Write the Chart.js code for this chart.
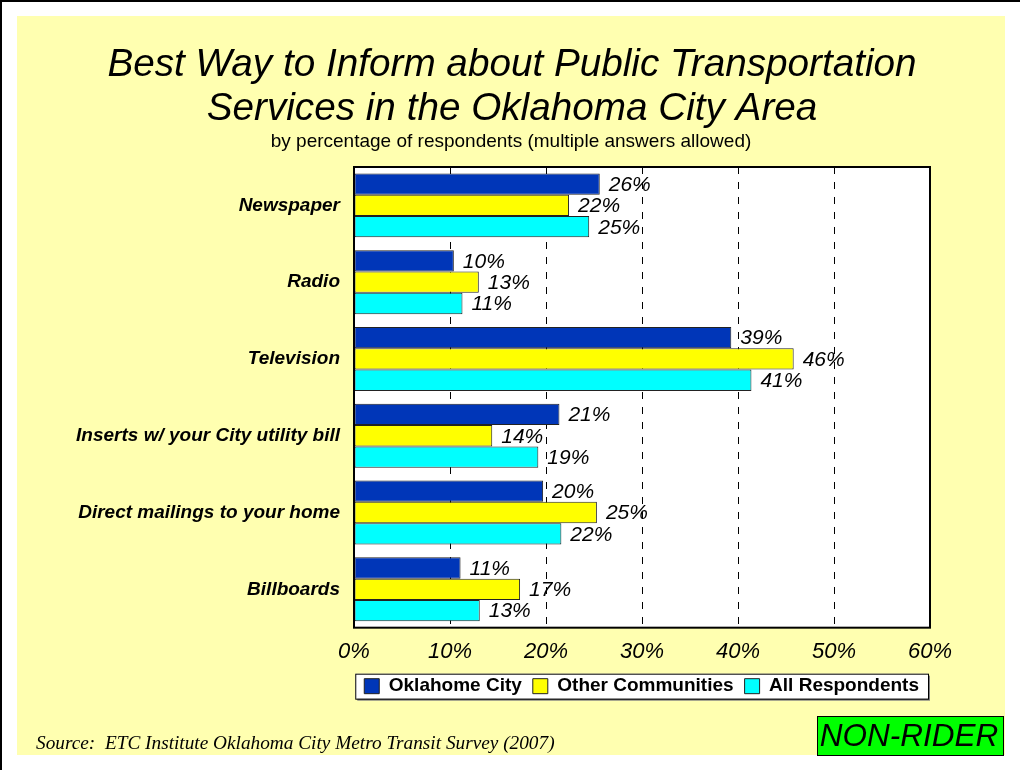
<!DOCTYPE html>
<html>
<head>
<meta charset="utf-8">
<script src="https://cdn.jsdelivr.net/npm/chart.js@4.4.1/dist/chart.umd.min.js"></script>
<style>
  body { margin: 0; background: #fff; }
  #wrap { width: 1020px; height: 770px; }
</style>
</head>
<body>
<div id="wrap"><canvas id="chart" width="1020" height="770"></canvas></div>
<script>
// datos
const categories = ['Newspaper', 'Radio', 'Television', 'Inserts w/ your City utility bill', 'Direct mailings to your home', 'Billboards'];
const oklahomaCity = [25.6, 10.4, 39.3, 21.4, 19.7, 11.1];
const otherCommunities = [22.4, 13.0, 45.8, 14.4, 25.3, 17.3];
const allRespondents = [24.5, 11.3, 41.4, 19.2, 21.6, 13.1];
const seriesNames = ['Oklahome City', 'Other Communities', 'All Respondents'];
const xMin = 0, xMax = 60, xStep = 10;

const titleLines = ['Best Way to Inform about Public Transportation', 'Services in the Oklahoma City Area'];
const subtitleText = 'by percentage of respondents (multiple answers allowed)';
const sourceText = 'Source:  ETC Institute Oklahoma City Metro Transit Survey (2007)';

const FONT = '"Liberation Sans", Arial, sans-serif';
Chart.defaults.font.family = FONT;
Chart.defaults.color = '#000';

const decor = {
  id: 'decor',
  afterLayout(chart) {
    // subir la leyenda justo debajo de las etiquetas del eje
    const lg = chart.legend;
    const h = lg.bottom - lg.top;
    lg.top = chart.chartArea.bottom + 38;
    lg.bottom = lg.top + h;
  },
  beforeDraw(chart) {
    const ctx = chart.ctx;
    const a = chart.chartArea;
    ctx.save();
    ctx.fillStyle = '#fff';
    ctx.fillRect(0, 0, chart.width, chart.height);
    ctx.strokeStyle = '#000';
    ctx.lineWidth = 2;
    ctx.beginPath();
    ctx.moveTo(0, 1); ctx.lineTo(chart.width, 1);
    ctx.moveTo(1, 0); ctx.lineTo(1, chart.height);
    ctx.stroke();
    ctx.fillStyle = '#FFFFB0';
    ctx.fillRect(17, 16, 988, 739);
    // fondo blanco del area de trazado
    ctx.fillStyle = '#fff';
    ctx.fillRect(a.left, a.top, a.right - a.left, a.bottom - a.top);
    // caja de la leyenda
    const hb = chart.legend.legendHitBoxes;
    if (hb && hb.length) {
      const l = Math.min(...hb.map(h => h.left)) - 9;
      const r = Math.max(...hb.map(h => h.left + h.width)) + 9;
      const t = hb[0].top - 3;
      const h = hb[0].height + 6;
      ctx.fillStyle = '#808080';
      ctx.fillRect(l + 2, t + 2, r - l, h);
      ctx.fillStyle = '#fff';
      ctx.fillRect(l, t, r - l, h);
      ctx.lineWidth = 1;
      ctx.strokeStyle = '#000';
      ctx.strokeRect(l + 0.5, t + 0.5, r - l, h);
    }
    // titulo y subtitulo
    ctx.fillStyle = '#000';
    ctx.textAlign = 'center';
    ctx.textBaseline = 'middle';
    ctx.font = 'italic 38.7px ' + FONT;
    ctx.fillText(titleLines[0], 512, 65);
    ctx.fillText(titleLines[1], 512, 109);
    ctx.font = '19px ' + FONT;
    ctx.fillText(subtitleText, 511, 141.5);
    ctx.restore();
  },
  afterDatasetsDraw(chart) {
    const ctx = chart.ctx;
    ctx.save();
    ctx.font = 'italic 21px ' + FONT;
    ctx.fillStyle = '#000';
    ctx.textAlign = 'left';
    ctx.textBaseline = 'middle';
    chart.data.datasets.forEach((ds, i) => {
      chart.getDatasetMeta(i).data.forEach((bar, j) => {
        ctx.fillText(Math.round(ds.data[j]) + '%', bar.x + 9, bar.y + 1);
      });
    });
    ctx.restore();
  },
  afterDraw(chart) {
    const ctx = chart.ctx;
    const a = chart.chartArea;
    ctx.save();
    ctx.strokeStyle = '#000';
    ctx.lineWidth = 2;
    ctx.strokeRect(a.left, a.top, a.right - a.left, a.bottom - a.top);
    // fuente
    ctx.fillStyle = '#000';
    ctx.font = 'italic 19.3px "Liberation Serif", "Times New Roman", serif';
    ctx.textBaseline = 'middle';
    ctx.textAlign = 'left';
    ctx.fillText(sourceText, 36, 744);
    // etiqueta NON-RIDER
    ctx.fillStyle = '#00FF00';
    ctx.fillRect(817, 716, 186, 39);
    ctx.lineWidth = 1;
    ctx.strokeStyle = '#000';
    ctx.strokeRect(817.5, 716.5, 186, 39);
    ctx.fillStyle = '#000';
    ctx.font = 'italic 31.5px ' + FONT;
    ctx.textAlign = 'center';
    ctx.fillText('NON-RIDER', 909, 737);
    ctx.restore();
  }
};

new Chart(document.getElementById('chart').getContext('2d'), {
  type: 'bar',
  data: {
    labels: categories,
    datasets: [
      { label: seriesNames[0], data: oklahomaCity, backgroundColor: '#0036B8' },
      { label: seriesNames[1], data: otherCommunities, backgroundColor: '#FFFF00' },
      { label: seriesNames[2], data: allRespondents, backgroundColor: '#00FFFF' }
    ].map(d => Object.assign(d, {
      borderColor: '#222',
      borderWidth: 1,
      borderSkipped: false,
      barPercentage: 1,
      categoryPercentage: 0.833
    }))
  },
  options: {
    indexAxis: 'y',
    responsive: false,
    animation: false,
    layout: { padding: { left: 20, right: 90, top: 167, bottom: 53 } },
    scales: {
      x: {
        min: xMin,
        max: xMax,
        ticks: {
          stepSize: xStep,
          callback: v => v + '%',
          font: { size: 22, style: 'italic', lineHeight: 1.06 },
          color: '#000',
          padding: 13
        },
        grid: {
          color: c => (c.tick && c.tick.value > xMin && c.tick.value < xMax) ? '#000' : 'rgba(0,0,0,0)',
          lineWidth: 1,
          drawTicks: false
        },
        border: { display: false, dash: [7, 8] }
      },
      y: {
        ticks: {
          font: { size: 19, style: 'italic', weight: 'bold' },
          color: '#000',
          padding: 14
        },
        grid: { display: false, drawTicks: false },
        border: { display: false },
        afterFit: s => { s.width = 334; }
      }
    },
    plugins: {
      title: { display: false },
      legend: {
        position: 'bottom',
        align: 'end',
        labels: {
          boxWidth: 15,
          boxHeight: 15,
          padding: 11,
          font: { size: 19, weight: 'bold', lineHeight: 1.0 },
          color: '#000'
        }
      },
      tooltip: { enabled: false }
    }
  },
  plugins: [decor]
});
</script>
</body>
</html>
